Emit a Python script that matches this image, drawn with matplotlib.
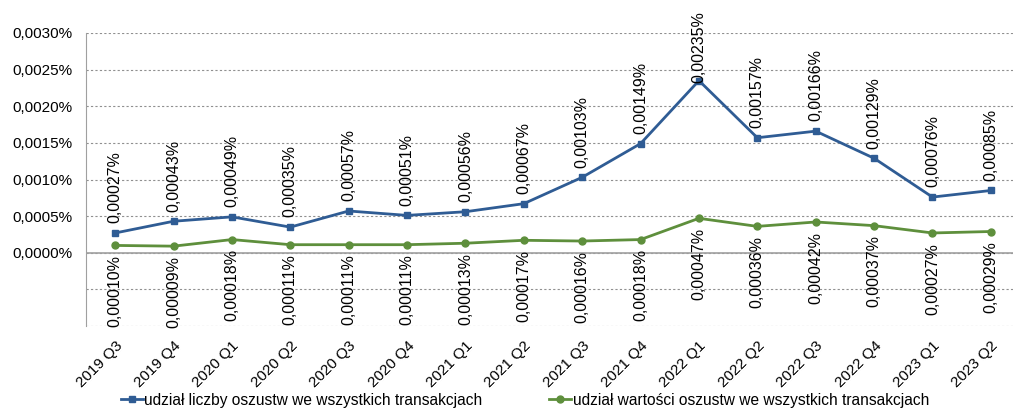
import matplotlib
matplotlib.use("Agg")
import matplotlib.pyplot as plt
from matplotlib.ticker import FuncFormatter

categories = ["2019 Q3", "2019 Q4", "2020 Q1", "2020 Q2", "2020 Q3", "2020 Q4",
              "2021 Q1", "2021 Q2", "2021 Q3", "2021 Q4", "2022 Q1", "2022 Q2",
              "2022 Q3", "2022 Q4", "2023 Q1", "2023 Q2"]
liczba = [0.00027, 0.00043, 0.00049, 0.00035, 0.00057, 0.00051, 0.00056, 0.00067,
          0.00103, 0.00149, 0.00235, 0.00157, 0.00166, 0.00129, 0.00076, 0.00085]
wartosc = [0.00010, 0.00009, 0.00018, 0.00011, 0.00011, 0.00011, 0.00013, 0.00017,
           0.00016, 0.00018, 0.00047, 0.00036, 0.00042, 0.00037, 0.00027, 0.00029]
label_liczba = "udział liczby oszustw we wszystkich transakcjach"
label_wartosc = "udział wartości oszustw we wszystkich transakcjach"

plt.rcParams['font.family'] = ['Liberation Sans', 'DejaVu Sans']

W, H = 1013, 408
fig = plt.figure(figsize=(W / 100, H / 100), dpi=100)
ax = fig.add_axes([86 / W, 1 - 326 / H, (1013 - 86) / W, (326 - 33) / H])

blue = "#2F5C94"
green = "#5E8F3C"
x = list(range(len(categories)))

ax.plot(x, liczba, color=blue, lw=2, marker='s', ms=5, label=label_liczba, zorder=3)
ax.plot(x, wartosc, color=green, lw=2, marker='o', ms=5, label=label_wartosc, zorder=3)

fmt = lambda v: ("%.5f" % v).replace(".", ",") + "%"
top_texts = []
for xi, v in zip(x, liczba):
    t = ax.annotate(fmt(v), (xi, v), xytext=(0, 7), textcoords='offset points',
                    rotation=90, ha='center', va='bottom', fontsize=11.5)
    top_texts.append(t)
for xi, v in zip(x, wartosc):
    ax.annotate(fmt(v), (xi, v), xytext=(0, -7), textcoords='offset points',
                rotation=90, ha='center', va='top', fontsize=11.5)

ax.set_xlim(-0.5, 15.38)
ax.set_ylim(-0.0010, 0.0030)
ax.set_yticks([-0.0010, -0.0005, 0, 0.0005, 0.0010, 0.0015, 0.0020, 0.0025, 0.0030])
ax.yaxis.set_major_formatter(FuncFormatter(
    lambda v, p: ("%.4f" % v).replace(".", ",") + "%" if v >= -1e-12 else ""))
ax.grid(axis='y', color='#909090', ls=(0, (2, 2)), lw=0.8)
ax.axhline(0, color='#A0A0A0', lw=1.2, zorder=2)
ax.set_xticks(x)
ax.set_xticklabels(categories, rotation=45, ha='right', rotation_mode='anchor', fontsize=11)
ax.tick_params(axis='x', length=0, pad=9)
ax.tick_params(axis='y', length=0, pad=10, labelsize=11)
for s in ['top', 'right', 'bottom']:
    ax.spines[s].set_visible(False)
ax.spines['left'].set_color('#A0A0A0')
ax.set_axisbelow(True)

fig.legend(loc='center', bbox_to_anchor=((525) / W, 1 - 400 / H), ncol=2, frameon=False,
           fontsize=11.2, handlelength=1.4, columnspacing=4.3, handletextpad=0.1)

# keep data labels inside the figure (pushed down like the original)
fig.canvas.draw()
r = fig.canvas.get_renderer()
for t in top_texts:
    bb = t.get_window_extent(r)
    limit = H - 11
    if bb.y1 > limit:
        dy_pt = (bb.y1 - limit) * 72 / fig.dpi
        ox, oy = t.xyann
        t.xyann = (ox, oy - dy_pt)

fig.savefig("out.png", dpi=100)
